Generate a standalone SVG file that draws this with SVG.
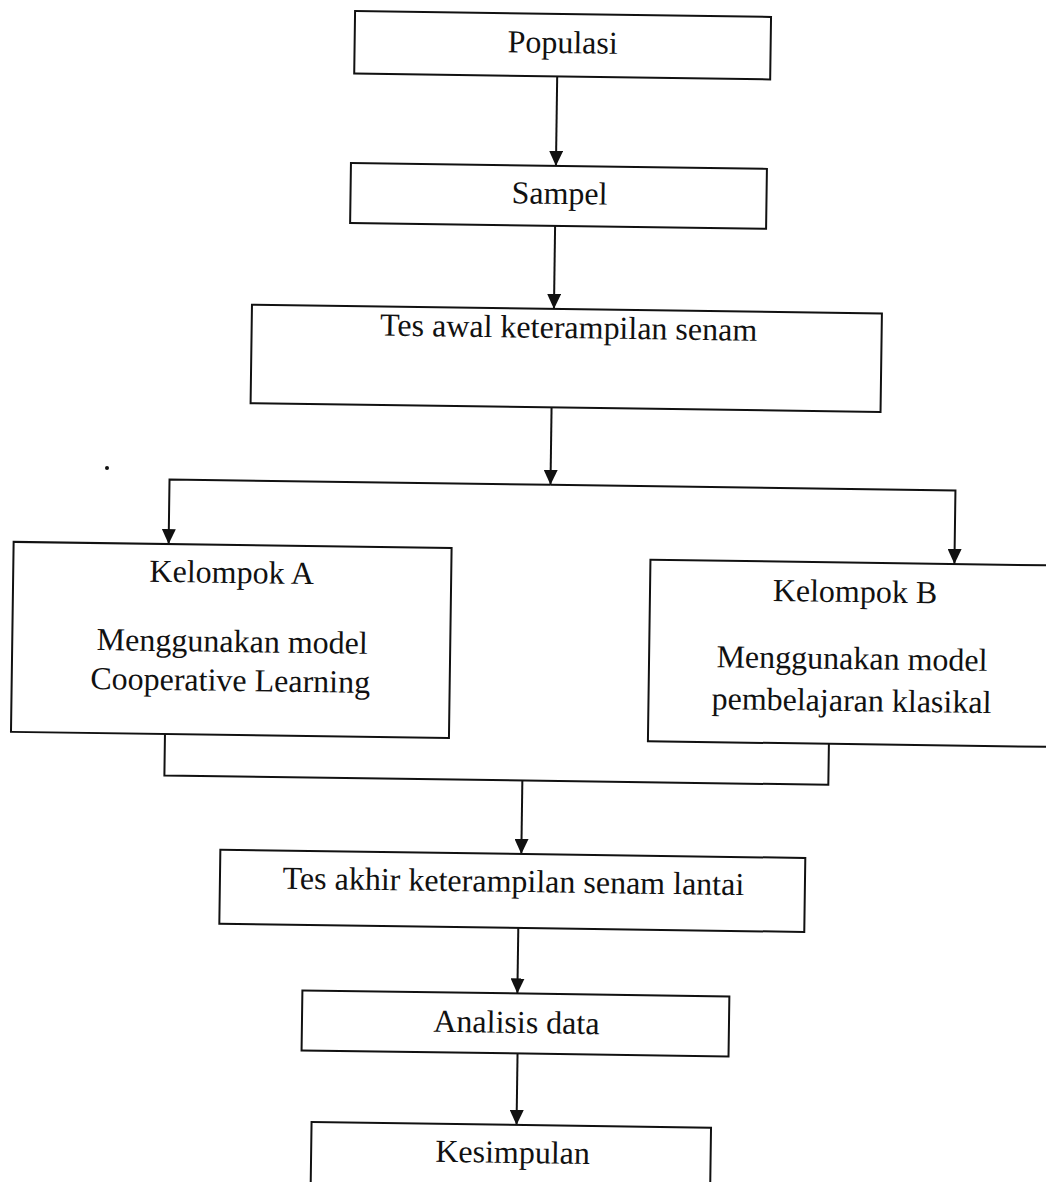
<svg xmlns="http://www.w3.org/2000/svg" width="1046" height="1182" viewBox="0 0 1046 1182">
  <style>
    .box { fill: #ffffff; stroke: #111111; stroke-width: 2; }
    .lbl { font-family: "Liberation Serif", "Times New Roman", serif; font-size: 32px; fill: #111111; text-anchor: middle; }
    .conn { fill: none; stroke: #111111; stroke-width: 2; }
  </style>
  <defs>
    <marker id="arrow" viewBox="0 0 15 14" refX="15" refY="7" markerWidth="15" markerHeight="14" markerUnits="userSpaceOnUse" orient="auto">
      <path d="M0,0 L15,7 L0,14 z" fill="#111111"/>
    </marker>
  </defs>
  <rect x="0" y="0" width="1046" height="1182" fill="#ffffff"/>
  <g transform="rotate(0.8 523 591)">
    <g id="connectors">
      <path class="conn" d="M550,76 V165.5" marker-end="url(#arrow)"/>
      <path class="conn" d="M550,225.5 V308.5" marker-end="url(#arrow)"/>
      <path class="conn" d="M549,407 V484.5" marker-end="url(#arrow)"/>
      <path class="conn" d="M549,484.5 H168 V549" marker-end="url(#arrow)"/>
      <path class="conn" d="M549,484.5 H954 V558" marker-end="url(#arrow)"/>
      <path class="conn" d="M167,739 V780.5 H831 V739.5"/>
      <path class="conn" d="M525,780.5 V854" marker-end="url(#arrow)"/>
      <path class="conn" d="M523,928 V993.5" marker-end="url(#arrow)"/>
      <path class="conn" d="M524,1053.5 V1125" marker-end="url(#arrow)"/>
    </g>
    <g id="populasi">
      <rect class="box" x="347" y="13.5" width="416" height="62.5"/>
      <text class="lbl" x="555" y="52.5">Populasi</text>
    </g>
    <g id="sampel">
      <rect class="box" x="345" y="165.5" width="416" height="60"/>
      <text class="lbl" x="554" y="203.5">Sampel</text>
    </g>
    <g id="tes-awal">
      <rect class="box" x="248" y="308.5" width="630" height="98.5"/>
      <text class="lbl" x="565" y="337.5">Tes awal keterampilan senam</text>
    </g>
    <g id="kelompok-a">
      <rect class="box" x="13" y="549" width="438" height="190"/>
      <text class="lbl" x="231.5" y="587">Kelompok A</text>
      <text class="lbl" x="233" y="656">Menggunakan model</text>
      <text class="lbl" x="231.5" y="695">Cooperative Learning</text>
    </g>
    <g id="kelompok-b">
      <rect class="box" x="650" y="558" width="406" height="181.5"/>
      <text class="lbl" x="855" y="597.5">Kelompok B</text>
      <text class="lbl" x="853" y="664.5">Menggunakan model</text>
      <text class="lbl" x="853" y="706.5">pembelajaran klasikal</text>
    </g>
    <g id="tes-akhir">
      <rect class="box" x="224" y="854" width="585" height="74"/>
      <text class="lbl" x="517.5" y="892">Tes akhir keterampilan senam lantai</text>
    </g>
    <g id="analisis">
      <rect class="box" x="308" y="993.5" width="427" height="60"/>
      <text class="lbl" x="522.5" y="1033">Analisis data</text>
    </g>
    <g id="kesimpulan">
      <rect class="box" x="319" y="1125" width="399.5" height="90"/>
      <text class="lbl" x="520.5" y="1163">Kesimpulan</text>
    </g>
  </g>
  <circle cx="107" cy="468" r="2" fill="#111111"/>
</svg>
